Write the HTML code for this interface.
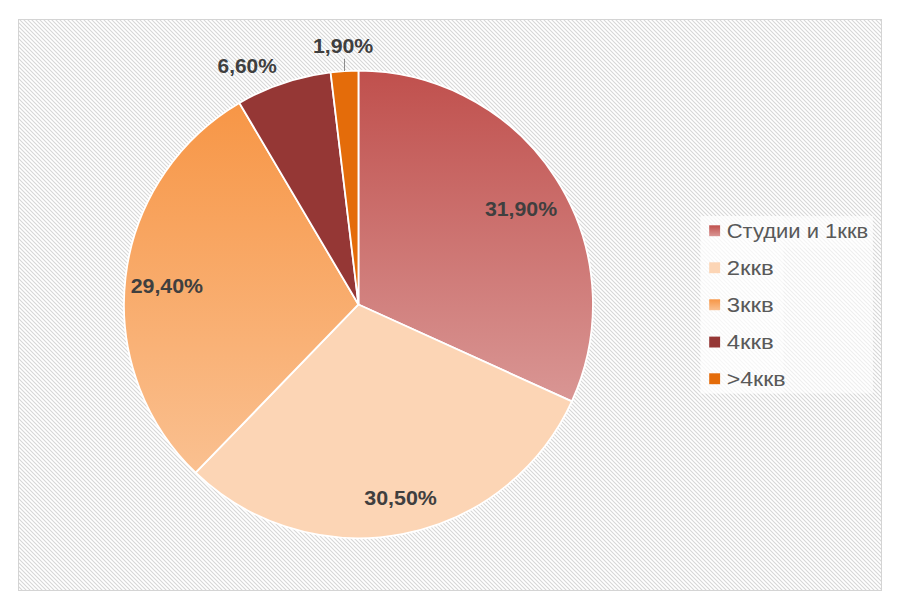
<!DOCTYPE html>
<html><head><meta charset="utf-8"><style>
html,body{margin:0;padding:0;background:#fff;}
svg{display:block}
text{font-family:"Liberation Sans",sans-serif;}
.dl{font-weight:bold;font-size:20.8px;fill:#3f3f3f;}
.lg{font-size:19.8px;fill:#595959;}
</style></head><body>
<svg width="900" height="611" viewBox="0 0 900 611">
<defs>
<pattern id="h" width="4" height="4" patternUnits="userSpaceOnUse">
<rect width="4" height="4" fill="#fff"/>
<path d="M-1 -1 L5 5 M-1 3 L1 5 M3 -1 L5 1" stroke="#d6d6d6" stroke-width="1.05"/>
</pattern>
<linearGradient id="g1" x1="0" y1="71" x2="0" y2="401" gradientUnits="userSpaceOnUse">
<stop offset="0" stop-color="#C0504D"/><stop offset="1" stop-color="#D99694"/></linearGradient>
<linearGradient id="g3" x1="0" y1="103" x2="0" y2="472" gradientUnits="userSpaceOnUse">
<stop offset="0" stop-color="#F79646"/><stop offset="1" stop-color="#FAC090"/></linearGradient>
<linearGradient id="s1" x1="0" y1="0" x2="0" y2="1">
<stop offset="0" stop-color="#C0504D"/><stop offset="1" stop-color="#D99694"/></linearGradient>
<linearGradient id="s3" x1="0" y1="0" x2="0" y2="1">
<stop offset="0" stop-color="#F79646"/><stop offset="1" stop-color="#FAC090"/></linearGradient>
</defs>
<rect x="0" y="0" width="900" height="611" fill="#fff"/>
<rect x="18.5" y="19.5" width="863" height="571" fill="url(#h)" stroke="#d4d4d4" stroke-width="1"/>
<g stroke="#fff" stroke-width="1.8" stroke-linejoin="round">
<path d="M358.45 304.45 L358.45 70.65 A234.5 233.8 0 0 1 571.84 401.39 Z" fill="url(#g1)"/>
<path d="M358.45 304.45 L571.84 401.39 A234.5 233.8 0 0 1 195.65 472.72 Z" fill="#FCD5B5"/>
<path d="M358.45 304.45 L195.65 472.72 A234.5 233.8 0 0 1 239.40 103.02 Z" fill="url(#g3)"/>
<path d="M358.45 304.45 L239.40 103.02 A234.5 233.8 0 0 1 330.60 72.30 Z" fill="#953735"/>
<path d="M358.45 304.45 L330.60 72.30 A234.5 233.8 0 0 1 358.45 70.65 Z" fill="#E46C0A"/>
</g>
<line x1="344.5" y1="58.8" x2="344.5" y2="71" stroke="#8c8c8c" stroke-width="1"/>
<text class="dl" x="484.9" y="216.3" textLength="72.2" lengthAdjust="spacingAndGlyphs">31,90%</text>
<text class="dl" x="364.3" y="505.2" textLength="72.6" lengthAdjust="spacingAndGlyphs">30,50%</text>
<text class="dl" x="130.7" y="292.6" textLength="72.4" lengthAdjust="spacingAndGlyphs">29,40%</text>
<text class="dl" x="217.6" y="73.4" textLength="59.2" lengthAdjust="spacingAndGlyphs">6,60%</text>
<text class="dl" x="312.9" y="52.8" textLength="60.4" lengthAdjust="spacingAndGlyphs">1,90%</text>
<rect x="700.5" y="216" width="172.5" height="177.5" fill="#fff" fill-opacity="0.6"/>
<rect x="700.5" y="216" width="83" height="177.5" fill="#fff" fill-opacity="0.45"/>
<rect x="783.5" y="218" width="89" height="30" fill="#fff" fill-opacity="0.3"/>
<rect x="709.2" y="225.3" width="10.9" height="10.9" fill="url(#s1)"/>
<rect x="709.2" y="262.3" width="10.9" height="10.9" fill="#FCD5B5"/>
<rect x="709.2" y="299.3" width="10.9" height="10.9" fill="url(#s3)"/>
<rect x="709.2" y="336.6" width="10.9" height="10.9" fill="#953735"/>
<rect x="709.2" y="373.3" width="10.9" height="10.9" fill="#E46C0A"/>
<text class="lg" x="726.7" y="238" textLength="141.6" lengthAdjust="spacingAndGlyphs">Студии и 1ккв</text>
<text class="lg" x="726.7" y="275" textLength="47.1" lengthAdjust="spacingAndGlyphs">2ккв</text>
<text class="lg" x="726.7" y="312" textLength="47.1" lengthAdjust="spacingAndGlyphs">3ккв</text>
<text class="lg" x="726.7" y="349" textLength="47.1" lengthAdjust="spacingAndGlyphs">4ккв</text>
<text class="lg" x="726.7" y="386" textLength="59" lengthAdjust="spacingAndGlyphs">&gt;4ккв</text>
</svg>
</body></html>
